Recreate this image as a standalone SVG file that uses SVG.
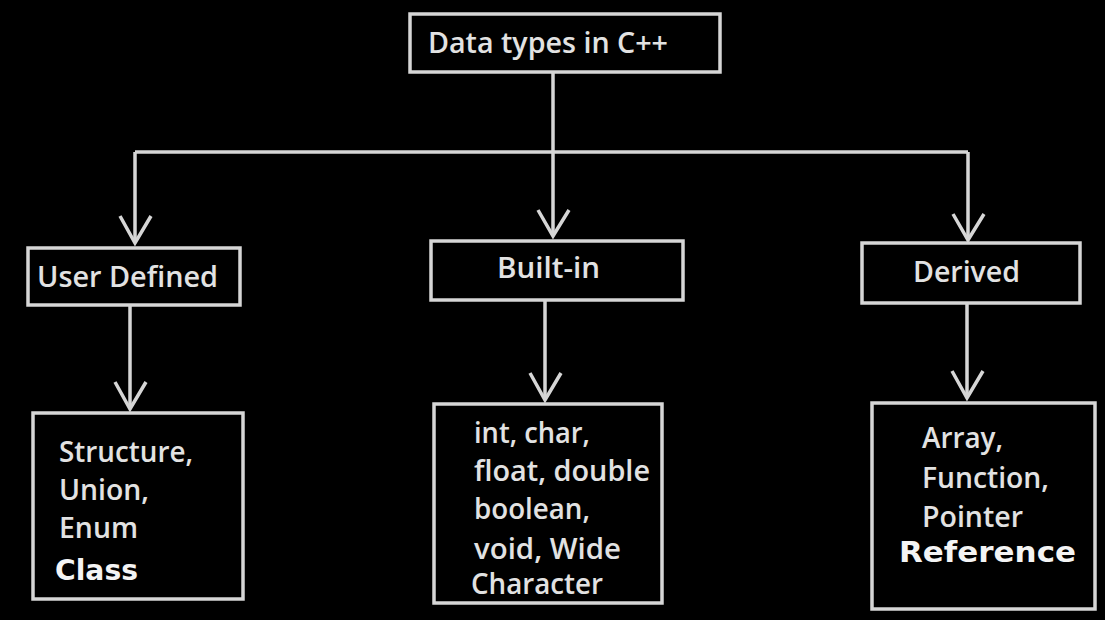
<svg xmlns="http://www.w3.org/2000/svg" width="1105" height="620" viewBox="0 0 1105 620">
<style>
.box{fill:#000;stroke:#d6d6d6;stroke-width:3.5}
.ln{fill:none;stroke:#d6d6d6;stroke-width:3.5}
.t{font-family:"Open Sans","Noto Sans",sans-serif;font-size:28px;font-weight:600;fill:#e2e2e2}
.b{font-family:"DejaVu Sans","Verdana",sans-serif;font-weight:bold;font-size:29px;fill:#f4f4f4}
</style>
<rect width="1105" height="620" fill="#000"/>
<g id="connectors">
<path class="ln" d="M553 72 V152 M135 152 H968 M135 152 V243 M553 152 V236 M968 152 V240"/>
<path class="ln" d="M120 216 L135 243 L151 216 M538 210 L553 236 L569 210 M953 214 L968 240 L984 214"/>
<path class="ln" d="M130 305 V409 M545 300 V400 M967 303 V398"/>
<path class="ln" d="M115 382 L130 409 L146 382 M530 373 L545 400 L561 373 M952 371 L967 398 L983 371"/>
</g>
<g id="root"><rect class="box" x="410" y="14" width="310" height="58"/><text class="t" x="428" y="53" textLength="240" lengthAdjust="spacingAndGlyphs">Data types in C++</text></g>
<g id="user"><rect class="box" x="28" y="248" width="212" height="57"/><text class="t" x="37" y="287" textLength="181" lengthAdjust="spacingAndGlyphs">User Defined</text></g>
<g id="builtin"><rect class="box" x="431" y="241" width="252" height="59"/><text class="t" x="497" y="278" textLength="103" lengthAdjust="spacingAndGlyphs">Built-in</text></g>
<g id="derived"><rect class="box" x="862" y="243" width="218" height="60"/><text class="t" x="913" y="282" textLength="107" lengthAdjust="spacingAndGlyphs">Derived</text></g>
<g id="user-items"><rect class="box" x="33" y="413" width="210" height="186"/>
<text class="t" x="59" y="462" textLength="134" lengthAdjust="spacingAndGlyphs">Structure,</text><text class="t" x="59" y="500" textLength="90" lengthAdjust="spacingAndGlyphs">Union,</text><text class="t" x="59" y="538" textLength="79" lengthAdjust="spacingAndGlyphs">Enum</text><text class="b" x="55" y="580" textLength="83" lengthAdjust="spacingAndGlyphs">Class</text></g>
<g id="builtin-items"><rect class="box" x="434" y="404" width="228" height="199"/>
<text class="t" x="474" y="443" textLength="116" lengthAdjust="spacingAndGlyphs">int, char,</text><text class="t" x="474" y="481" textLength="176" lengthAdjust="spacingAndGlyphs">float, double</text><text class="t" x="474" y="519" textLength="116" lengthAdjust="spacingAndGlyphs">boolean,</text><text class="t" x="474" y="559" textLength="147" lengthAdjust="spacingAndGlyphs">void, Wide</text><text class="t" x="471" y="594" textLength="132" lengthAdjust="spacingAndGlyphs">Character</text></g>
<g id="derived-items"><rect class="box" x="872" y="403" width="223" height="206"/>
<text class="t" x="922" y="448" textLength="81" lengthAdjust="spacingAndGlyphs">Array,</text><text class="t" x="922" y="488" textLength="127" lengthAdjust="spacingAndGlyphs">Function,</text><text class="t" x="922" y="527" textLength="101" lengthAdjust="spacingAndGlyphs">Pointer</text><text class="b" x="899" y="562" textLength="177" lengthAdjust="spacingAndGlyphs">Reference</text></g>
</svg>
